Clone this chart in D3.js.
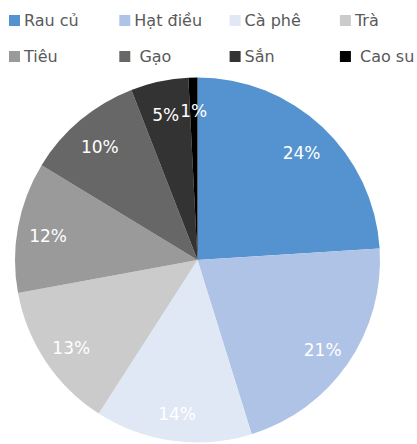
<!DOCTYPE html>
<html>
<head>
<meta charset="utf-8">
<script src="https://cdn.jsdelivr.net/npm/d3@7"></script>
<style>
  html, body { margin: 0; padding: 0; background: #fff; }
  svg text { font-family: "DejaVu Sans", sans-serif; }
</style>
</head>
<body>
<div class="container"></div>
<script>
const categories = ["Rau củ", "Hạt điều", "Cà phê", "Trà", "Tiêu", " Gạo", "Sắn", " Cao su"];
const values = [24.0, 21.2, 13.9, 13.0, 11.6, 10.4, 5.1, 0.8];
const colors = ["#5593d0", "#aec3e5", "#e0e8f6", "#cbcbcb", "#9a9a9a", "#676767", "#333333", "#000000"];

const width = 417;
const height = 444;
const cx = 197.5;
const cy = 260;
const radius = 182.5;
const labelRadius = 152;

const svg = d3.select(".container")
  .append("svg")
  .attr("width", width)
  .attr("height", height)
  .attr("viewBox", `0 0 ${width} ${height}`);

svg.append("rect")
  .attr("width", width)
  .attr("height", height)
  .attr("fill", "#fff");

const total = d3.sum(values);
const data = categories.map((name, i) => ({ name, value: values[i], i }));

const pie = d3.pie().value(d => d.value).sort(null);
const arc = d3.arc().innerRadius(0).outerRadius(radius);
const labelArc = d3.arc().innerRadius(labelRadius).outerRadius(labelRadius);

const color = d3.scaleOrdinal().domain(categories).range(colors);

const g = svg.append("g").attr("transform", `translate(${cx},${cy})`);
const arcs = pie(data);

// slices
g.selectAll("path.slice")
  .data(arcs)
  .join("path")
  .attr("class", "slice")
  .attr("d", arc)
  .attr("fill", d => color(d.data.name));

// percent labels
const fmt = d3.format(".0%");
g.selectAll("text.pct")
  .data(arcs)
  .join("text")
  .attr("class", "pct")
  .attr("transform", d => `translate(${labelArc.centroid(d)})`)
  .attr("text-anchor", "middle")
  .attr("dy", "0.55em")
  .attr("fill", "#fff")
  .style("font-size", "17px")
  .text(d => fmt(d.data.value / total));

// legend, 4 per row
const legend = svg.append("g");
const colX = d3.scaleLinear().domain([0, 1]).range([9, 119.3]);
const rowY = d3.scaleLinear().domain([0, 1]).range([15, 51]);

const item = legend.selectAll("g")
  .data(data)
  .join("g")
  .attr("transform", d => `translate(${colX(d.i % 4)},${rowY(Math.floor(d.i / 4))})`);

item.append("rect")
  .attr("width", 11)
  .attr("height", 11)
  .attr("fill", d => color(d.name));

item.append("text")
  .attr("x", 15)
  .attr("y", 10.5)
  .attr("fill", "#595959")
  .style("font-size", "16px")
  .style("white-space", "pre")
  .text(d => d.name);
</script>
</body>
</html>
